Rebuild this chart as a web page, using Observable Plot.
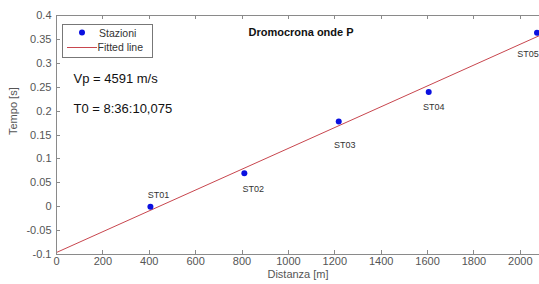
<!DOCTYPE html>
<html><head><meta charset="utf-8">
<script src="https://cdn.jsdelivr.net/npm/d3@7"></script>
<script src="https://cdn.jsdelivr.net/npm/@observablehq/plot@0.6"></script>
<style>
html,body{margin:0;padding:0;background:#fff;overflow:hidden;width:539px;height:284px}
#chart{width:545px}
#chart svg{max-width:none !important}
</style></head>
<body><div id="chart"></div>
<script>
const stations = ["ST01","ST02","ST03","ST04","ST05"];
const distanze = [405, 810, 1217, 1605, 2072];
const tempi = [0.0, 0.07, 0.178, 0.24, 0.364];
const xTicks = [0,200,400,600,800,1000,1200,1400,1600,1800,2000];
const yTicks = [-0.1,-0.05,0,0.05,0.1,0.15,0.2,0.25,0.3,0.35,0.4];
const titleText = "Dromocrona onde P";
const vpText = "Vp = 4591 m/s";
const t0Text = "T0 = 8:36:10,075";
const legendLabels = ["Stazioni","Fitted line"];

const data = stations.map((s,i)=>({name:s, x:distanze[i], y:tempi[i]}));
// least-squares fit computed from the data
const mx = d3.mean(distanze), my = d3.mean(tempi);
const slope = d3.sum(data,d=>(d.x-mx)*(d.y-my))/d3.sum(data,d=>(d.x-mx)**2);
const icpt = my - slope*mx;
const xDomain = [0, 2100];
const fit = xDomain.map(x=>({x, y: icpt + slope*x}));

const labelOffsets = {ST01:[8,-12], ST02:[9,16], ST03:[6,23], ST04:[5,15], ST05:[-9,21]};
const font = "Liberation Sans, Arial, sans-serif";
const axisGray = "#8a8a8a";
const textGray = "#555";

const plot = Plot.plot({
  width: 545, height: 284,
  marginLeft: 56, marginRight: 2, marginTop: 15, marginBottom: 30,
  style: {fontFamily: font, fontSize: "11px", background: "#fff", overflow: "visible", maxWidth: "none"},
  x: {domain: xDomain, label: null},
  y: {domain: [-0.1, 0.4], label: null},
  marks: [
    Plot.frame({stroke: axisGray}),
    Plot.axisX({ticks: xTicks, tickSize: 0, tickPadding: 3, fill: textGray, fontSize: 11, tickFormat: d=>String(d), label: null}),
    Plot.axisY({ticks: yTicks, tickSize: 0, tickPadding: 5, fill: textGray, fontSize: 11, tickFormat: d=>String(d), label: null}),
    Plot.line(fit, {x:"x", y:"y", stroke:"#c8464e", strokeWidth: 1}),
    Plot.dot(data, {x:"x", y:"y", r: 3, fill:"#0a10e0", stroke:"none"}),
    ...stations.map(s=>Plot.text(data.filter(d=>d.name===s), {x:"x", y:"y", text:"name", dx: labelOffsets[s][0], dy: labelOffsets[s][1], fontSize: 9, fill: "#333"})),
    Plot.text([titleText], {frameAnchor:"top", dx: 1, dy: 13, fontWeight:"bold", fontSize: 11, fill:"#111"}),
    Plot.text([vpText], {frameAnchor:"top-left", textAnchor:"start", lineAnchor:"middle", dx: 17, dy: 63, fontSize: 13, fill:"#111"}),
    Plot.text([t0Text], {frameAnchor:"top-left", textAnchor:"start", lineAnchor:"middle", dx: 17, dy: 93, fontSize: 13, fill:"#111"}),
    Plot.text(["Distanza [m]"], {frameAnchor:"bottom", dy: 23, dx: -2, fontSize: 11, fill: textGray}),
    Plot.text(["Tempo [s]"], {frameAnchor:"left", dx: -43, rotate: -90, fontSize: 11, fill: textGray})
  ]
});
document.getElementById("chart").appendChild(plot);

// inward tick marks (MATLAB style) using the scales
const svg = d3.select(plot);
const sx = plot.scale("x"), sy = plot.scale("y");
const g = svg.append("g").attr("stroke", axisGray).attr("stroke-width", 1);
const yTop = sy.apply(0.4), yBottom = sy.apply(-0.1), xLeft = sx.apply(0);
xTicks.forEach(t=>{
  const x = Math.round(sx.apply(t))+0.5;
  g.append("line").attr("x1",x).attr("x2",x).attr("y1",yBottom).attr("y2",yBottom-4);
  g.append("line").attr("x1",x).attr("x2",x).attr("y1",yTop).attr("y2",yTop+4);
});
yTicks.forEach(t=>{
  const y = Math.round(sy.apply(t))+0.5;
  g.append("line").attr("x1",xLeft).attr("x2",xLeft+4).attr("y1",y).attr("y2",y);
});

// legend box
const lg = svg.append("g").attr("font-family", font).attr("font-size", 10.5).attr("text-anchor","start");
lg.append("rect").attr("x",62.5).attr("y",24.5).attr("width",90).attr("height",33).attr("fill","#fff").attr("stroke","#777");
lg.append("circle").attr("cx",82).attr("cy",32.5).attr("r",3).attr("fill","#0a10e0");
lg.append("line").attr("x1",67).attr("x2",97).attr("y1",47.5).attr("y2",47.5).attr("stroke","#c8464e");
lg.append("text").attr("x",99).attr("y",36.5).attr("fill","#333").text(legendLabels[0]);
lg.append("text").attr("x",97.5).attr("y",51).attr("fill","#333").text(legendLabels[1]);
</script></body></html>
